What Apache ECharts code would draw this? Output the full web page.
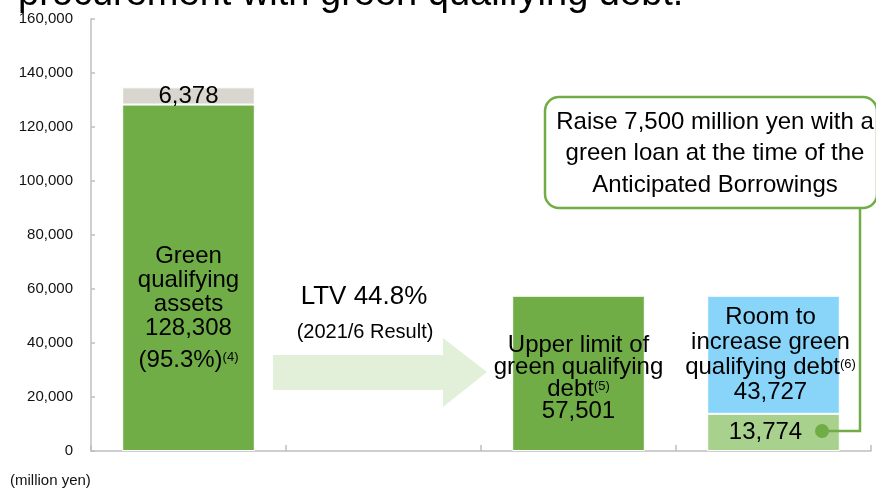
<!DOCTYPE html>
<html>
<head>
<meta charset="utf-8">
<script src="https://cdn.jsdelivr.net/npm/echarts@6/dist/echarts.min.js"></script>
<style>
html,body{margin:0;padding:0;background:#fff;}
#c{width:876px;height:489px;}
</style>
</head>
<body>
<div id="c"></div>
<script>
// ---- data ----
const categories = ['Green qualifying assets', 'LTV', 'Upper limit of green qualifying debt', 'Room to increase green qualifying debt'];
const greenValues = [128308, null, 57501, null];
const otherAssetValues = [6378, null, null, null];
const raisedValues = [null, null, null, 13774];
const roomValues = [null, null, null, 43727];
const greenRatioText = '95.3%';
const ltvText = 'LTV 44.8%';
const ltvNote = '(2021/6 Result)';
const yMin = 0, yMax = 160000, yInterval = 20000;
const titleText = 'procurement with green qualifying debt.';
const calloutText = 'Raise 7,500 million yen with a\ngreen loan at the time of the\nAnticipated Borrowings';
const unitText = '(million yen)';

const FONT = '"Liberation Sans", Arial, sans-serif';
const fmt = v => Number(v).toLocaleString('en-US');
const GREEN = '#70ad47';

const chart = echarts.init(document.getElementById('c'), null, {renderer: 'canvas'});

const base = {
  type: 'bar', stack: 'total', barWidth: '68%',
  itemStyle: {borderColor: '#fff', borderWidth: 1},
  emphasis: {disabled: true}
};

const option = {
  animation: false,
  textStyle: {fontFamily: FONT},
  grid: {left: 91, right: 5, top: 19, bottom: 38},
  xAxis: {
    type: 'category', data: categories,
    axisLine: {lineStyle: {color: '#bfbfbf', width: 1.5}},
    axisTick: {show: true, inside: true, interval: 0, length: 6, lineStyle: {color: '#bfbfbf', width: 1.5}},
    axisLabel: {show: false, interval: 0},
    splitLine: {show: false}
  },
  yAxis: {
    type: 'value', min: yMin, max: yMax, interval: yInterval,
    axisLine: {show: true, lineStyle: {color: '#bfbfbf', width: 1.5}},
    axisTick: {show: true, inside: true, length: 4, lineStyle: {color: '#bfbfbf', width: 1.5}},
    axisLabel: {fontSize: 15, color: '#111', fontFamily: FONT, margin: 18, formatter: v => fmt(v)},
    splitLine: {show: false}
  },
  series: [
    Object.assign({}, base, {
      name: 'green', data: greenValues, itemStyle: {color: GREEN, borderColor: '#fff', borderWidth: 1},
      label: {
        show: true, position: 'inside', color: '#000', fontFamily: FONT,
        formatter: p => p.dataIndex === 0
          ? '{a|Green}\n{a|qualifying}\n{a|assets}\n{a|' + fmt(p.value) + '}\n{b|(' + greenRatioText + ')}{s|(4)}'
          : '{c|Upper limit of}\n{c|green qualifying}\n{c|debt}{s|(5)}\n{c|' + fmt(p.value) + '}',
        rich: {
          a: {fontSize: 24, lineHeight: 24, fontFamily: FONT, color: '#000'},
          b: {fontSize: 24, lineHeight: 40, fontFamily: FONT, color: '#000'},
          c: {fontSize: 24, lineHeight: 22, fontFamily: FONT, color: '#000'},
          s: {fontSize: 13, fontFamily: FONT, color: '#000', padding: [0, 0, 6, 0]}
        }
      },
      labelLayout: p => p.dataIndex === 0 ? {dy: 35} : {dy: 5}
    }),
    Object.assign({}, base, {
      name: 'other', data: otherAssetValues, itemStyle: {color: '#d9d6d0', borderColor: '#fff', borderWidth: 1},
      label: {show: true, position: 'inside', color: '#000', fontSize: 24, fontFamily: FONT, formatter: p => fmt(p.value)}
    }),
    Object.assign({}, base, {
      name: 'raised', data: raisedValues, itemStyle: {color: '#a9d18e', borderColor: '#fff', borderWidth: 1},
      label: {show: true, position: 'inside', color: '#000', fontSize: 24, fontFamily: FONT, offset: [-8, 0], formatter: p => fmt(p.value)}
    }),
    Object.assign({}, base, {
      name: 'room', data: roomValues, itemStyle: {color: '#89d5fa', borderColor: '#fff', borderWidth: 1},
      label: {
        show: true, position: 'inside', color: '#000', fontFamily: FONT, offset: [-3, 0],
        formatter: p => '{a|Room to}\n{a|increase green}\n{a|qualifying debt}{s|(6)}\n{a|' + fmt(p.value) + '}',
        rich: {
          a: {fontSize: 24, lineHeight: 25, fontFamily: FONT, color: '#000'},
          s: {fontSize: 13, fontFamily: FONT, color: '#000', padding: [0, 0, 6, 0]}
        }
      }
    })
  ],
  graphic: [
    {type: 'text', x: 18, y: -5, z: 10,
     style: {text: titleText, fontSize: 38, fontFamily: FONT, fill: '#000', align: 'left', verticalAlign: 'middle'}},
    {type: 'text', x: 10, y: 481,
     style: {text: unitText, fontSize: 15, fontFamily: FONT, fill: '#111', align: 'left', verticalAlign: 'middle'}},
    {type: 'polygon', z: 1,
     shape: {points: [[273, 355], [443, 355], [443, 338], [487, 372], [443, 407], [443, 390], [273, 390]]},
     style: {fill: '#e2efd9'}},
    {type: 'text', x: 364, y: 297,
     style: {text: ltvText, fontSize: 26, fontFamily: FONT, fill: '#000', align: 'center', verticalAlign: 'middle'}},
    {type: 'text', x: 365, y: 332,
     style: {text: ltvNote, fontSize: 20, fontFamily: FONT, fill: '#000', align: 'center', verticalAlign: 'middle'}},
    {type: 'polyline', z: 20,
     shape: {points: [[822, 431], [860, 431], [860, 208]]},
     style: {stroke: GREEN, lineWidth: 2.5, fill: null}},
    {type: 'circle', z: 21, shape: {cx: 822, cy: 431, r: 7}, style: {fill: GREEN}},
    {type: 'rect', z: 22, shape: {x: 545, y: 97, width: 332, height: 111, r: 14},
     style: {fill: '#fff', stroke: GREEN, lineWidth: 2.5}},
    {type: 'text', z: 23, x: 715, y: 153.5,
     style: {text: calloutText, fontSize: 24, lineHeight: 31.5, fontFamily: FONT, fill: '#000', align: 'center', verticalAlign: 'middle'}}
  ]
};
chart.setOption(option);
</script>
</body>
</html>
